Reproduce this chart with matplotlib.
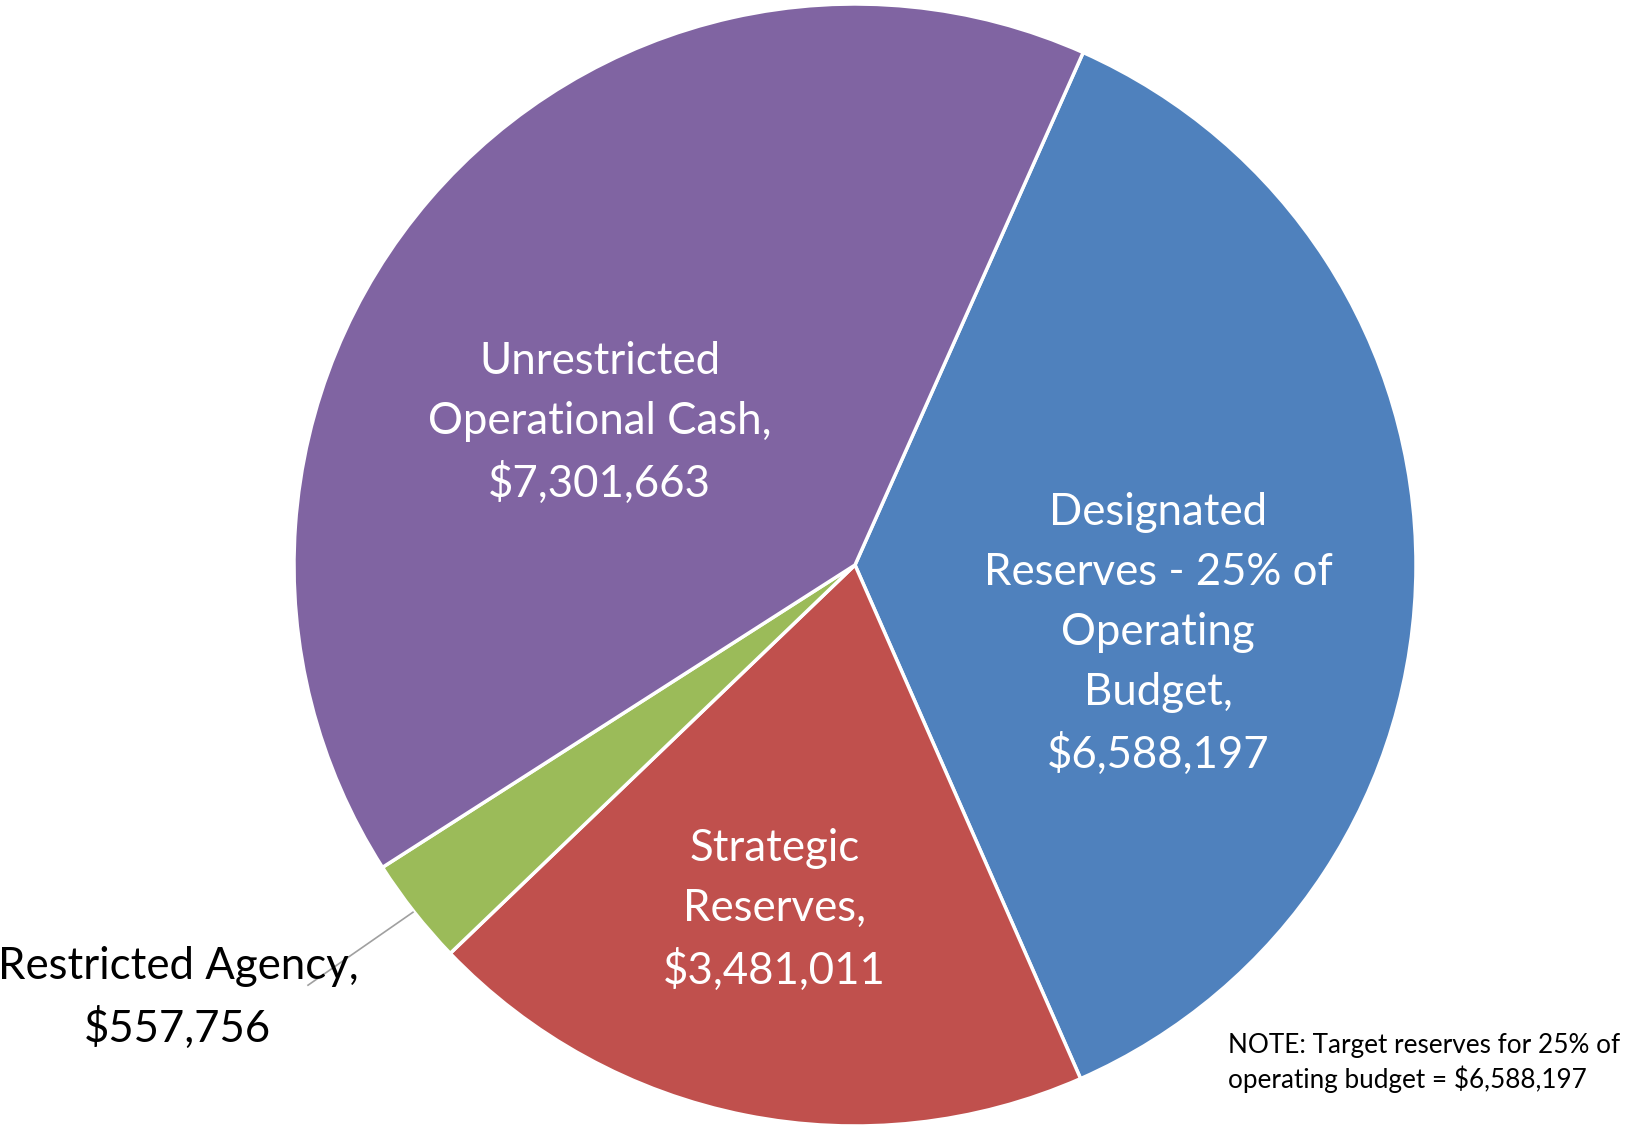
import matplotlib.pyplot as plt

plt.rcParams['font.family'] = ['Lato', 'DejaVu Sans']

# reserve balances, drawn clockwise from the top-right
names = ['Designated\nReserves - 25% of\nOperating\nBudget',
         'Strategic\nReserves',
         'Restricted Agency',
         'Unrestricted\nOperational Cash']
amounts = [6588197, 3481011, 557756, 7301663]
colors = ['#4F81BD', '#C0504D', '#9BBB59', '#8064A2']
note = 'NOTE: Target reserves for 25% of\noperating budget = $6,588,197'

fig = plt.figure(figsize=(16.31, 11.25), dpi=100)
ax = fig.add_axes([294 / 1631, -1 / 1125, 1122 / 1631, 1122 / 1125])
ax.pie(amounts, colors=colors, startangle=66, counterclock=False,
       wedgeprops=dict(edgecolor='white', linewidth=2.5))
ax.set_xlim(-1, 1)
ax.set_ylim(-1, 1)
ax.set_aspect('equal')
ax.axis('off')

labels = [f'{n},\n${v:,}' for n, v in zip(names, amounts)]
label_pos = [(0.540, -0.123), (-0.144, -0.615), (-1.207, -0.772), (-0.455, 0.253)]
label_col = ['white', 'white', 'black', 'white']
for text, (x, y), c in zip(labels, label_pos, label_col):
    ax.text(x, y, text, ha='center', va='center', fontsize=31.5, color=c,
            linespacing=1.58, clip_on=False)

# leader line for the small slice
ax.plot([-0.788, -0.975], [-0.619, -0.749], color='#A0A0A0', lw=1.2, clip_on=False)

fig.text(1228 / 1631, 1 - 1063 / 1125, note, ha='left', va='center',
         fontsize=18.8, linespacing=1.33)

fig.savefig('out.png', dpi=100, facecolor='white')
